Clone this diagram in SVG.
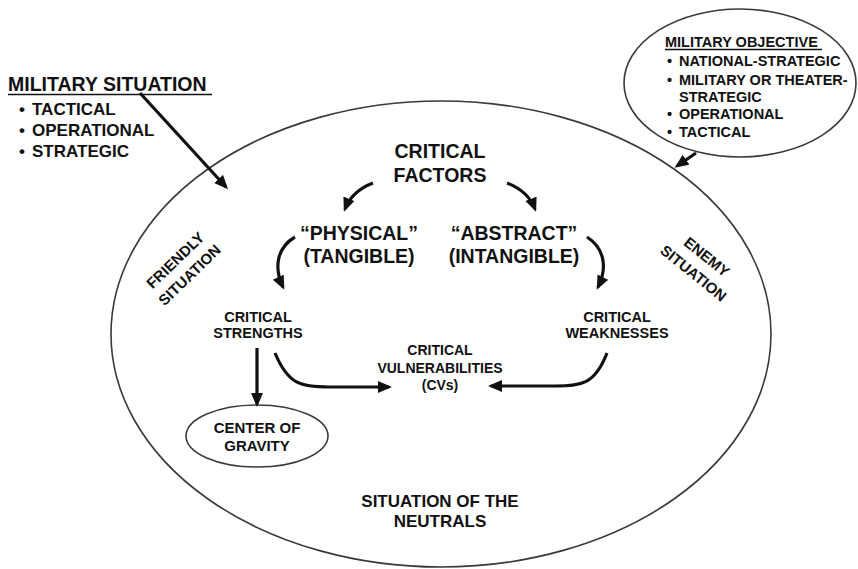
<svg xmlns="http://www.w3.org/2000/svg" width="858" height="569" viewBox="0 0 858 569">
<style>
text{font-family:"Liberation Sans",Arial,sans-serif;font-weight:bold;fill:#111}
.c{text-anchor:middle}
.big{font-size:19.5px}
.mid{font-size:14.5px}
.shape{fill:none;stroke:#3a3a3a;stroke-width:1.6}
.ul{stroke:#111;stroke-width:1.6}
.arr{fill:none;stroke:#111;stroke-width:3.2;marker-end:url(#ah)}
</style>
<defs>
<marker id="ah" markerUnits="userSpaceOnUse" markerWidth="16" markerHeight="14" refX="11" refY="6" orient="auto">
<path d="M0,0 L14,6 L0,12 Z" fill="#111"/>
</marker>
</defs>
<rect width="858" height="569" fill="#fff"/>
<g id="situation-ellipse"><ellipse class="shape" cx="441" cy="334" rx="330" ry="233"/></g>
<g id="military-situation">
<text x="8" y="91" style="font-size:19.5px">MILITARY SITUATION</text>
<line class="ul" x1="8" y1="94.5" x2="212" y2="94.5"/>
<text x="19" y="115" style="font-size:17px">•</text><text x="32" y="115" style="font-size:17px">TACTICAL</text>
<text x="19" y="136" style="font-size:17px">•</text><text x="32" y="136" style="font-size:17px">OPERATIONAL</text>
<text x="19" y="157" style="font-size:17px">•</text><text x="32" y="157" style="font-size:17px">STRATEGIC</text>
</g>
<g id="military-objective">
<ellipse class="shape" cx="740" cy="83" rx="116" ry="74" fill="#fff"/>
<text x="665" y="47" class="mid">MILITARY OBJECTIVE</text>
<line class="ul" x1="665" y1="49.5" x2="822" y2="49.5" style="stroke-width:1.3"/>
<text x="667" y="66" class="mid">•</text><text x="679" y="66" class="mid">NATIONAL-STRATEGIC</text>
<text x="667" y="85" class="mid">•</text><text x="679" y="85" class="mid">MILITARY OR THEATER-</text>
<text x="679" y="102" class="mid">STRATEGIC</text>
<text x="667" y="119" class="mid">•</text><text x="679" y="119" class="mid">OPERATIONAL</text>
<text x="667" y="137" class="mid">•</text><text x="679" y="137" class="mid">TACTICAL</text>
</g>
<g id="critical-factors"><text class="c big" x="440" y="158">CRITICAL</text><text class="c big" x="440" y="182">FACTORS</text></g>
<g id="physical"><text class="c big" x="359" y="240">“PHYSICAL”</text><text class="c big" x="359" y="263">(TANGIBLE)</text></g>
<g id="abstract"><text class="c big" x="514" y="240">“ABSTRACT”</text><text class="c big" x="514" y="263">(INTANGIBLE)</text></g>
<g id="critical-strengths"><text class="c mid" x="258" y="322">CRITICAL</text><text class="c mid" x="258" y="338">STRENGTHS</text></g>
<g id="critical-weaknesses"><text class="c mid" x="617" y="322">CRITICAL</text><text class="c mid" x="617" y="338">WEAKNESSES</text></g>
<g id="critical-vulnerabilities"><text class="c" x="440" y="355" style="font-size:14px">CRITICAL</text><text class="c" x="440" y="373" style="font-size:14px">VULNERABILITIES</text><text class="c" x="440" y="390" style="font-size:14px">(CVs)</text></g>
<g id="center-of-gravity">
<ellipse class="shape" cx="257" cy="436" rx="71" ry="31"/>
<text class="c" x="257" y="433" style="font-size:15px">CENTER OF</text><text class="c" x="257" y="451" style="font-size:15px">GRAVITY</text>
</g>
<g id="neutrals"><text class="c" x="440" y="507" style="font-size:17px">SITUATION OF THE</text><text class="c" x="440" y="527" style="font-size:17px">NEUTRALS</text></g>
<g id="friendly-situation" transform="translate(179,264) rotate(-44)"><text class="c" x="0" y="0" style="font-size:15px">FRIENDLY</text><text class="c" x="0" y="20.5" style="font-size:15px">SITUATION</text></g>
<g id="enemy-situation" transform="translate(703.5,261) rotate(39)"><text class="c" x="0" y="0" style="font-size:15px">ENEMY</text><text class="c" x="0" y="21" style="font-size:15px">SITUATION</text></g>
<g id="connectors">
<path class="arr" d="M140,93 L226,187"/>
<path class="arr" d="M696,153 L677,166"/>
<path class="arr" d="M373,183 Q352,191 345,209"/>
<path class="arr" d="M507,183 Q528,191 535,209"/>
<path class="arr" d="M295,237 C278,247 273,266 283,287"/>
<path class="arr" d="M587,237 C604,248 608,267 598,287"/>
<path class="arr" d="M257,348 L257,404"/>
<path class="arr" d="M275,353 C288,384 300,387 330,387 L389,387"/>
<path class="arr" d="M607,353 C595,384 582,386 555,386 L491,386"/>
</g>
</svg>
